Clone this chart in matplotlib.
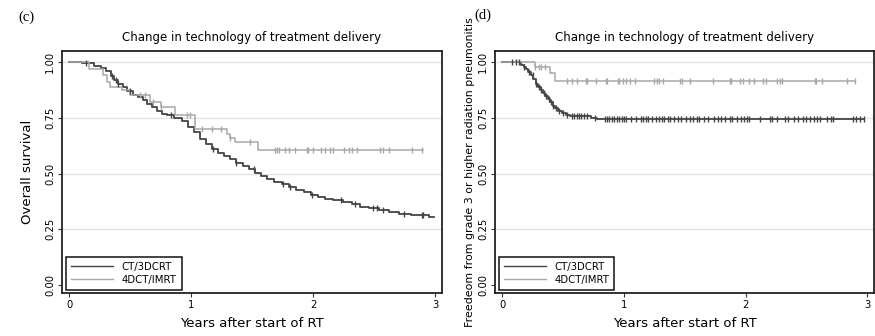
import numpy as np
import matplotlib
matplotlib.use("Agg")
import matplotlib.pyplot as plt

# ---- Panel (c): overall survival ----
os_ct_time = [0, 0.10, 0.20, 0.26, 0.30, 0.34, 0.37, 0.40, 0.44, 0.47, 0.52, 0.56,
              0.60, 0.64, 0.68, 0.72, 0.76, 0.80, 0.86, 0.92, 0.97, 1.02, 1.07,
              1.12, 1.17, 1.22, 1.27, 1.32, 1.37, 1.42, 1.47, 1.52, 1.57, 1.62,
              1.68, 1.74, 1.80, 1.86, 1.92, 1.98, 2.04, 2.10, 2.16, 2.24, 2.32,
              2.38, 2.46, 2.54, 2.62, 2.70, 2.80, 2.95]
os_ct_surv = [1.0, 0.995, 0.985, 0.975, 0.96, 0.94, 0.92, 0.905, 0.89, 0.87, 0.855,
              0.845, 0.83, 0.815, 0.80, 0.78, 0.77, 0.763, 0.75, 0.735, 0.71, 0.685,
              0.655, 0.635, 0.61, 0.595, 0.58, 0.565, 0.55, 0.535, 0.52, 0.505,
              0.49, 0.475, 0.463, 0.452, 0.441, 0.428, 0.418, 0.406, 0.397, 0.387,
              0.38, 0.372, 0.362, 0.352, 0.344, 0.337, 0.328, 0.32, 0.315, 0.306]
os_ct_end = 2.99
os_ct_censor = [0.14, 0.35, 0.38, 0.40, 0.50, 0.83, 1.18, 1.37, 1.51, 1.75, 1.81,
                1.99, 2.23, 2.34, 2.49, 2.52, 2.57, 2.74, 2.89, 2.90]

os_4d_time = [0, 0.16, 0.28, 0.31, 0.336, 0.43, 0.50, 0.66, 0.75, 0.87, 1.03,
              1.29, 1.32, 1.36, 1.55]
os_4d_surv = [1.0, 0.968, 0.943, 0.913, 0.89, 0.875, 0.853, 0.823, 0.80, 0.763,
              0.699, 0.677, 0.661, 0.643, 0.606]
os_4d_end = 2.90
os_4d_censor = [0.58, 0.62, 0.69, 0.75, 0.965, 0.99, 1.09, 1.17, 1.24, 1.32, 1.48,
                1.69, 1.70, 1.72, 1.77, 1.80, 1.85, 1.95, 1.96, 2.00, 2.06, 2.10,
                2.14, 2.16, 2.25, 2.29, 2.32, 2.36, 2.55, 2.57, 2.62, 2.81, 2.89]

# ---- Panel (d): freedom from grade >=3 radiation pneumonitis ----
rp_ct_time = [0, 0.155, 0.175, 0.195, 0.215, 0.235, 0.255, 0.275, 0.295, 0.315,
              0.335, 0.355, 0.375, 0.395, 0.415, 0.435, 0.46, 0.49, 0.52, 0.56,
              0.73, 0.78]
rp_ct_surv = [1.0, 0.99, 0.98, 0.97, 0.958, 0.943, 0.925, 0.905, 0.89, 0.876,
              0.862, 0.848, 0.834, 0.82, 0.806, 0.793, 0.782, 0.772, 0.763, 0.759,
              0.751, 0.745]
rp_ct_end = 2.97
rp_ct_censor = [0.08, 0.11, 0.14, 0.18, 0.22, 0.25, 0.28, 0.30, 0.32, 0.34, 0.36,
                0.38, 0.40, 0.42, 0.44, 0.47, 0.50, 0.53, 0.57, 0.59, 0.61, 0.63,
                0.65, 0.67, 0.70, 0.76, 0.84, 0.86, 0.88, 0.90, 0.92, 0.94, 0.96,
                0.98, 1.00, 1.02, 1.06, 1.10, 1.14, 1.16, 1.18, 1.20, 1.23, 1.26,
                1.29, 1.31, 1.33, 1.36, 1.38, 1.41, 1.44, 1.47, 1.51, 1.54, 1.57,
                1.60, 1.62, 1.66, 1.69, 1.74, 1.77, 1.80, 1.83, 1.87, 1.89, 1.93,
                1.96, 1.99, 2.01, 2.03, 2.12, 2.20, 2.22, 2.26, 2.32, 2.35, 2.40,
                2.43, 2.47, 2.50, 2.53, 2.56, 2.59, 2.61, 2.67, 2.70, 2.72, 2.88,
                2.91, 2.94, 2.97]

rp_4d_time = [0, 0.27, 0.39, 0.43]
rp_4d_surv = [1.0, 0.98, 0.95, 0.917]
rp_4d_end = 2.90
rp_4d_censor = [0.27, 0.30, 0.32, 0.35, 0.535, 0.576, 0.617, 0.69, 0.70, 0.77,
                0.85, 0.86, 0.95, 0.96, 0.99, 1.02, 1.05, 1.09, 1.25, 1.27, 1.29,
                1.32, 1.46, 1.48, 1.54, 1.73, 1.87, 1.88, 1.95, 1.98, 2.03, 2.07,
                2.14, 2.17, 2.26, 2.28, 2.30, 2.57, 2.58, 2.63, 2.83, 2.90]

group_labels = ["CT/3DCRT", "4DCT/IMRT"]
group_colors = ["#444444", "#a8a8a8"]
y_ticks = [0.0, 0.25, 0.5, 0.75, 1.0]
y_ticklabels = ["0.00", "0.25", "0.50", "0.75", "1.00"]
x_ticks = [0, 1, 2, 3]

title = "Change in technology of treatment delivery"
xlabel = "Years after start of RT"


def km_curve(ax, times, surv, end, censor, color, lw, label):
    t = np.append(times, end)
    s = np.append(surv, surv[-1])
    ax.step(t, s, where="post", color=color, lw=lw, label=label, zorder=3)
    idx = np.searchsorted(times, censor, side="right") - 1
    cy = np.asarray(surv)[idx]
    ax.plot(censor, cy, ls="none", marker="|", ms=4.5, mew=1.0,
            color=color, zorder=4)


fig = plt.figure(figsize=(8.75, 3.36), dpi=100)
ax_c = fig.add_axes([62 / 875, 1 - 293 / 336, 380 / 875, 242 / 336])
ax_d = fig.add_axes([495 / 875, 1 - 293 / 336, 379 / 875, 242 / 336])

panels = [
    (ax_c,
     [(os_ct_time, os_ct_surv, os_ct_end, os_ct_censor),
      (os_4d_time, os_4d_surv, os_4d_end, os_4d_censor)]),
    (ax_d,
     [(rp_ct_time, rp_ct_surv, rp_ct_end, rp_ct_censor),
      (rp_4d_time, rp_4d_surv, rp_4d_end, rp_4d_censor)]),
]

for ax, curves in panels:
    for y in [0.25, 0.5, 0.75, 1.0]:
        ax.axhline(y, color="#e4e4e4", lw=1.0, zorder=1)
    for (t, s, e, c), lab, col, lw in zip(curves, group_labels, group_colors,
                                          [1.3, 1.1]):
        km_curve(ax, t, s, e, c, col, lw, lab)
    ax.set_xlim(-0.06, 3.055)
    ax.set_ylim(-0.036, 1.051)
    ax.set_xticks(x_ticks)
    ax.set_yticks(y_ticks)
    ax.set_yticklabels(y_ticklabels, rotation=90, va="center")
    ax.tick_params(axis="both", labelsize=7.2, length=3, width=0.8,
                   color="#333333", pad=2)
    for sp in ax.spines.values():
        sp.set_linewidth(1.3)
        sp.set_color("#222222")
    ax.set_title(title, fontsize=8.5, pad=7)
    ax.set_xlabel(xlabel, fontsize=9.5, labelpad=5)
    leg = ax.legend(loc="lower left", bbox_to_anchor=(0.01, 0.012),
                    borderaxespad=0, fontsize=7.3, handlelength=4.2,
                    borderpad=0.5, labelspacing=0.3, fancybox=False,
                    framealpha=1, edgecolor="#111111")
    leg.get_frame().set_linewidth(1.1)
    for line in leg.get_lines():
        line.set_linewidth(1.0)

ax_c.set_ylabel("Overall survival", fontsize=9.5, labelpad=8)
ax_d.set_ylabel("Freedeom from grade 3 or higher radiation pneumonitis",
                fontsize=7.9, labelpad=2)

fig.text(18 / 875, 1 - 17 / 336, "(c)", fontsize=10.5, family="Liberation Serif",
         va="center")
fig.text(474 / 875, 1 - 15 / 336, "(d)", fontsize=10.5, family="Liberation Serif",
         va="center")

fig.savefig("out.png", dpi=100)
